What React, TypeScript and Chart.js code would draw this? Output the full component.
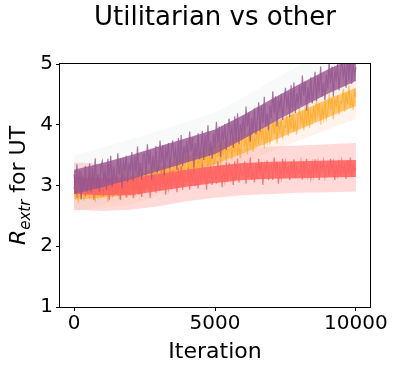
import React, { useEffect, useRef } from "react";
import { Chart, registerables } from "chart.js";

Chart.register(...registerables);

const TITLE = "Utilitarian vs other";
const X_LABEL = "Iteration";
const X_TICKS = [0, 5000, 10000];
const Y_TICKS = [1, 2, 3, 4, 5];

// Band iterations (every 1000)
const BAND_ITER = [0, 1000, 2000, 3000, 4000, 5000, 6000, 7000, 8000, 9000, 10000];

// Noisy run values, one value every 50 iterations (0..10000)
const PURPLE_RUN = [
  3.19, 2.86, 3.35, 3.02, 3.25, 2.77, 3.16, 2.93, 3.32, 2.89,
  3.06, 3.36, 2.88, 3.29, 3.02, 3.45, 2.95, 3.18, 2.9, 3.31,
  3.4, 3.1, 3.26, 2.92, 3.44, 3.04, 3.49, 2.98, 3.31, 3.13,
  3.09, 3.53, 3.17, 3.45, 2.95, 3.39, 3.24, 3.49, 3.06, 3.34,
  3.25, 3.55, 3.07, 3.48, 3.21, 3.64, 3.14, 3.37, 3.09, 3.5,
  3.52, 3.19, 3.68, 3.35, 3.58, 3.1, 3.49, 3.26, 3.65, 3.22,
  3.3, 3.74, 3.38, 3.66, 3.16, 3.6, 3.45, 3.7, 3.27, 3.55,
  3.74, 3.44, 3.6, 3.26, 3.78, 3.38, 3.83, 3.32, 3.65, 3.47,
  3.73, 3.4, 3.89, 3.56, 3.79, 3.31, 3.7, 3.47, 3.86, 3.43,
  3.6, 3.9, 3.42, 3.83, 3.56, 3.99, 3.49, 3.72, 3.44, 3.85,
  3.61, 4.05, 3.69, 3.97, 3.47, 3.91, 3.76, 4.01, 3.58, 3.86,
  4.1, 3.8, 3.96, 3.62, 4.14, 3.74, 4.19, 3.68, 4.01, 3.83,
  4.14, 3.81, 4.3, 3.97, 4.2, 3.72, 4.11, 3.88, 4.27, 3.84,
  4.07, 4.37, 3.89, 4.3, 4.03, 4.46, 3.96, 4.19, 3.91, 4.32,
  4.11, 4.55, 4.19, 4.47, 3.97, 4.41, 4.26, 4.51, 4.08, 4.36,
  4.61, 4.31, 4.47, 4.13, 4.65, 4.25, 4.7, 4.19, 4.52, 4.34,
  4.65, 4.32, 4.81, 4.48, 4.71, 4.23, 4.62, 4.39, 4.78, 4.35,
  4.57, 4.87, 4.39, 4.8, 4.53, 4.96, 4.46, 4.69, 4.41, 4.82,
  4.6, 5.04, 4.68, 4.96, 4.46, 4.9, 4.75, 5.0, 4.57, 4.85,
  5.09, 4.79, 4.95, 4.61, 5.13, 4.73, 5.18, 4.67, 5.0, 4.82,
  4.95,
];
const ORANGE_RUN = [
  3.07, 2.84, 2.97, 2.71, 3.1, 2.8, 3.14, 2.75, 3.0, 2.87,
  3.03, 2.78, 3.15, 2.9, 3.08, 2.72, 3.01, 2.83, 3.13, 2.81,
  2.83, 3.16, 2.89, 3.1, 2.73, 3.06, 2.94, 3.13, 2.81, 3.02,
  2.92, 3.15, 2.78, 3.09, 2.89, 3.21, 2.84, 3.01, 2.8, 3.11,
  3.18, 2.95, 3.08, 2.82, 3.21, 2.91, 3.25, 2.86, 3.11, 2.98,
  3.2, 2.95, 3.32, 3.07, 3.25, 2.89, 3.18, 3.0, 3.3, 2.98,
  3.06, 3.39, 3.12, 3.33, 2.96, 3.29, 3.17, 3.36, 3.04, 3.25,
  3.21, 3.44, 3.07, 3.38, 3.18, 3.5, 3.13, 3.3, 3.09, 3.4,
  3.51, 3.28, 3.41, 3.15, 3.54, 3.24, 3.58, 3.19, 3.44, 3.31,
  3.54, 3.29, 3.66, 3.41, 3.59, 3.23, 3.52, 3.34, 3.64, 3.32,
  3.41, 3.74, 3.47, 3.68, 3.31, 3.64, 3.52, 3.71, 3.39, 3.6,
  3.57, 3.8, 3.43, 3.74, 3.54, 3.86, 3.49, 3.66, 3.45, 3.76,
  3.88, 3.65, 3.78, 3.52, 3.91, 3.61, 3.95, 3.56, 3.81, 3.68,
  3.92, 3.67, 4.04, 3.79, 3.97, 3.61, 3.9, 3.72, 4.02, 3.7,
  3.79, 4.12, 3.85, 4.06, 3.69, 4.02, 3.9, 4.09, 3.77, 3.98,
  3.96, 4.19, 3.82, 4.13, 3.93, 4.25, 3.88, 4.05, 3.84, 4.15,
  4.27, 4.04, 4.17, 3.91, 4.3, 4.0, 4.34, 3.95, 4.2, 4.07,
  4.31, 4.06, 4.43, 4.18, 4.36, 4.0, 4.29, 4.11, 4.41, 4.09,
  4.19, 4.52, 4.25, 4.46, 4.09, 4.42, 4.3, 4.49, 4.17, 4.38,
  4.36, 4.59, 4.22, 4.53, 4.33, 4.65, 4.28, 4.45, 4.24, 4.55,
  4.46,
];
const RED_RUN = [
  2.94, 3.17, 2.8, 3.11, 2.91, 3.23, 2.86, 3.03, 2.82, 3.13,
  2.86, 3.19, 2.92, 3.13, 2.76, 3.09, 2.97, 3.16, 2.84, 3.05,
  3.07, 2.82, 3.19, 2.94, 3.12, 2.76, 3.05, 2.87, 3.17, 2.85,
  3.12, 2.89, 3.02, 2.76, 3.15, 2.85, 3.19, 2.8, 3.05, 2.92,
  2.93, 3.16, 2.79, 3.1, 2.9, 3.22, 2.85, 3.02, 2.81, 3.12,
  2.9, 3.23, 2.96, 3.17, 2.8, 3.13, 3.01, 3.2, 2.88, 3.09,
  3.16, 2.91, 3.28, 3.03, 3.21, 2.85, 3.14, 2.96, 3.26, 2.94,
  3.25, 3.02, 3.15, 2.89, 3.28, 2.98, 3.32, 2.93, 3.18, 3.05,
  3.07, 3.3, 2.93, 3.24, 3.04, 3.36, 2.99, 3.16, 2.95, 3.26,
  3.03, 3.36, 3.09, 3.3, 2.93, 3.26, 3.14, 3.33, 3.01, 3.22,
  3.28, 3.03, 3.4, 3.15, 3.33, 2.97, 3.26, 3.08, 3.38, 3.06,
  3.37, 3.14, 3.27, 3.01, 3.4, 3.1, 3.44, 3.05, 3.3, 3.17,
  3.17, 3.4, 3.03, 3.34, 3.14, 3.46, 3.09, 3.26, 3.05, 3.36,
  3.11, 3.44, 3.17, 3.38, 3.01, 3.34, 3.22, 3.41, 3.09, 3.3,
  3.34, 3.09, 3.46, 3.21, 3.39, 3.03, 3.32, 3.14, 3.44, 3.12,
  3.38, 3.2, 3.3, 3.09, 3.4, 3.16, 3.43, 3.12, 3.32, 3.22,
  3.21, 3.39, 3.1, 3.35, 3.19, 3.44, 3.15, 3.28, 3.12, 3.36,
  3.17, 3.43, 3.21, 3.38, 3.09, 3.35, 3.25, 3.4, 3.15, 3.32,
  3.34, 3.14, 3.44, 3.24, 3.38, 3.09, 3.33, 3.18, 3.42, 3.17,
  3.4, 3.22, 3.32, 3.11, 3.42, 3.18, 3.46, 3.14, 3.34, 3.24,
  3.28,
];

// Dense core bands
const PURPLE_CORE_HI = [3.26, 3.37, 3.5, 3.64, 3.78, 3.92, 4.16, 4.42, 4.67, 4.91, 5.12];
const PURPLE_CORE_LO = [2.86, 2.97, 3.1, 3.24, 3.38, 3.52, 3.76, 4.02, 4.27, 4.51, 4.72];
const ORANGE_CORE_HI = [3.07, 3.1, 3.15, 3.3, 3.47, 3.65, 3.83, 4.03, 4.22, 4.42, 4.61];
const ORANGE_CORE_LO = [2.77, 2.8, 2.85, 3.0, 3.17, 3.35, 3.53, 3.73, 3.92, 4.12, 4.31];
const RED_CORE_HI = [3.14, 3.12, 3.12, 3.19, 3.26, 3.32, 3.37, 3.39, 3.4, 3.41, 3.42];
const RED_CORE_LO = [2.86, 2.84, 2.84, 2.91, 2.98, 3.04, 3.09, 3.11, 3.12, 3.13, 3.14];

// Light spread bands
const PURPLE_HALO_HI = [3.5, 3.62, 3.76, 3.9, 4.05, 4.2, 4.45, 4.72, 4.98, 5.2, 5.4];
const PURPLE_HALO_LO = [2.55, 2.68, 2.82, 2.96, 3.1, 3.25, 3.48, 3.72, 3.96, 4.2, 4.45];
const ORANGE_HALO_HI = [3.22, 3.25, 3.3, 3.45, 3.63, 3.82, 4.0, 4.2, 4.4, 4.6, 4.82];
const ORANGE_HALO_LO = [2.6, 2.63, 2.68, 2.84, 3.01, 3.18, 3.36, 3.56, 3.74, 3.92, 4.1];
const RED_HALO_HI = [3.38, 3.36, 3.36, 3.42, 3.5, 3.56, 3.6, 3.64, 3.66, 3.68, 3.7];
const RED_HALO_LO = [2.6, 2.58, 2.6, 2.66, 2.74, 2.8, 2.84, 2.86, 2.88, 2.89, 2.9];

const RUN_STEP = 50;

const PURPLE = "rgba(150,86,142,0.8)";
const PURPLE_CORE = "rgba(152,88,143,0.82)";
const PURPLE_HALO = "rgba(185,210,195,0.1)";
const ORANGE = "rgba(255,160,0,0.55)";
const ORANGE_CORE = "rgba(255,178,70,0.7)";
const ORANGE_HALO = "rgba(255,190,150,0.18)";
const RED = "rgba(255,99,97,0.85)";
const RED_CORE = "rgba(255,99,97,0.88)";
const RED_HALO = "rgba(255,99,97,0.24)";

const FONT = "'DejaVu Sans', sans-serif";

function run(values: number[]) {
  return values.map((v, i) => ({ x: i * RUN_STEP, y: v }));
}
function band(values: number[]) {
  return values.map((v, i) => ({ x: BAND_ITER[i], y: v }));
}

function lineDs(values: number[], color: string) {
  return {
    data: run(values),
    borderColor: color,
    borderWidth: 1.2,
    pointRadius: 0,
    tension: 0,
    fill: false,
  };
}
function bandPair(hi: number[], lo: number[], color: string) {
  return [
    {
      data: band(hi),
      borderWidth: 0,
      borderColor: "rgba(0,0,0,0)",
      backgroundColor: color,
      pointRadius: 0,
      tension: 0,
      fill: "+1",
    },
    {
      data: band(lo),
      borderWidth: 0,
      borderColor: "rgba(0,0,0,0)",
      pointRadius: 0,
      tension: 0,
      fill: false,
    },
  ];
}

const framePlugin = {
  id: "frame",
  afterDraw(chart: any) {
    const { ctx, chartArea } = chart;
    const { left, right, top, bottom } = chartArea;
    ctx.save();
    ctx.strokeStyle = "#000";
    ctx.lineWidth = 1;
    ctx.strokeRect(left - 0.5, top - 0.5, right - left + 1, bottom - top + 1);
    // y-axis label with italic R and subscript
    ctx.translate(25, (top + bottom) / 2);
    ctx.rotate(-Math.PI / 2);
    ctx.fillStyle = "#000";
    ctx.textBaseline = "alphabetic";
    ctx.textAlign = "left";
    const mainFont = `italic 22px ${FONT}`;
    const subFont = `italic 15px ${FONT}`;
    const restFont = `22px ${FONT}`;
    const rest = " for UT";
    ctx.font = mainFont;
    const wR = ctx.measureText("R").width;
    ctx.font = subFont;
    const wSub = ctx.measureText("extr").width;
    ctx.font = restFont;
    const wRest = ctx.measureText(rest).width;
    let x = -(wR + wSub + wRest) / 2;
    ctx.font = mainFont;
    ctx.fillText("R", x, 0);
    x += wR;
    ctx.font = subFont;
    ctx.fillText("extr", x, 4.5);
    x += wSub;
    ctx.font = restFont;
    ctx.fillText(rest, x, 0);
    ctx.restore();
  },
};

export default function App() {
  const ref = useRef<HTMLCanvasElement>(null);
  useEffect(() => {
    document.body.style.margin = "0";
    const canvas = ref.current!;
    const datasets: any[] = [
      lineDs(PURPLE_RUN, PURPLE),
      ...bandPair(PURPLE_CORE_HI, PURPLE_CORE_LO, PURPLE_CORE),
      lineDs(RED_RUN, RED),
      ...bandPair(RED_CORE_HI, RED_CORE_LO, RED_CORE),
      lineDs(ORANGE_RUN, ORANGE),
      ...bandPair(ORANGE_CORE_HI, ORANGE_CORE_LO, ORANGE_CORE),
      ...bandPair(PURPLE_HALO_HI, PURPLE_HALO_LO, PURPLE_HALO),
      ...bandPair(ORANGE_HALO_HI, ORANGE_HALO_LO, ORANGE_HALO),
      ...bandPair(RED_HALO_HI, RED_HALO_LO, RED_HALO),
    ];
    const chart = new Chart(canvas, {
      type: "line",
      data: { datasets },
      options: {
        animation: false,
        responsive: false,
        devicePixelRatio: 1,
        layout: { padding: { left: 0, right: 29, top: 0, bottom: 0 } },
        plugins: {
          legend: { display: false },
          tooltip: { enabled: false },
          title: {
            display: true,
            text: TITLE,
            color: "#000",
            fullSize: false,
            font: { family: FONT, size: 26, weight: "normal" },
            padding: { top: 2.4, bottom: 30.4 },
          },
        },
        scales: {
          x: {
            type: "linear",
            min: -500,
            max: 10500,
            border: { display: false },
            grid: {
              drawOnChartArea: false,
              drawTicks: true,
              tickLength: 4,
              color: "#000",
            },
            ticks: {
              color: "#000",
              font: { family: FONT, size: 20 },
              padding: 1,
              maxRotation: 0,
              autoSkip: false,
              callback: (v: any) => String(v),
            },
            afterBuildTicks: (scale: any) => {
              scale.ticks = X_TICKS.map((v) => ({ value: v }));
            },
            afterFit: (scale: any) => {
              scale.height = 65;
            },
            title: {
              display: true,
              text: X_LABEL,
              color: "#000",
              font: { family: FONT, size: 22 },
              padding: { top: 0, bottom: 6.4 },
            },
          },
          y: {
            type: "linear",
            min: 1,
            max: 5,
            border: { display: false },
            grid: {
              drawOnChartArea: false,
              drawTicks: true,
              tickLength: 4,
              color: "#000",
            },
            ticks: {
              color: "#000",
              font: { family: FONT, size: 20 },
              padding: 3,
              stepSize: 1,
              callback: (v: any) => String(v),
            },
            afterBuildTicks: (scale: any) => {
              scale.ticks = Y_TICKS.map((v) => ({ value: v }));
            },
            afterFit: (scale: any) => {
              scale.width = 60;
            },
          },
        },
      },
      plugins: [framePlugin],
    });
    return () => chart.destroy();
  }, []);
  return (
    <div style={{ width: 399, height: 372 }}>
      <canvas ref={ref} width={399} height={372} />
    </div>
  );
}
